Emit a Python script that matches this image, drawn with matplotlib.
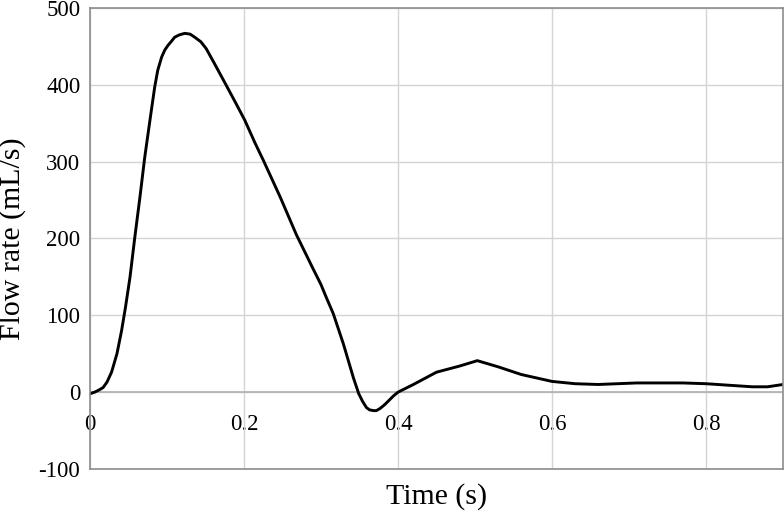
import matplotlib
matplotlib.use("Agg")
import matplotlib.pyplot as plt

plt.rcParams['font.family'] = ['Liberation Serif', 'DejaVu Serif']
plt.rcParams['axes.unicode_minus'] = False

time_s = [0.0, 0.006, 0.012, 0.017, 0.022, 0.028, 0.035, 0.041, 0.046, 0.052, 0.058,
          0.065, 0.071, 0.078, 0.084, 0.088, 0.093, 0.097, 0.101, 0.106, 0.110, 0.116,
          0.123, 0.130, 0.136, 0.144, 0.151, 0.162, 0.175, 0.190, 0.201, 0.214, 0.225,
          0.247, 0.268, 0.290, 0.300, 0.307, 0.316, 0.329, 0.342, 0.349, 0.354, 0.359,
          0.363, 0.368, 0.372, 0.377, 0.383, 0.389, 0.394, 0.400, 0.420, 0.450, 0.480,
          0.503, 0.530, 0.560, 0.600, 0.630, 0.660, 0.710, 0.770, 0.800, 0.860, 0.880,
          0.900]
flow_ml_s = [-2, 0, 3, 6, 13, 26, 50, 80, 110, 150, 200,
             255, 305, 355, 397, 419, 436, 445, 451, 457, 462, 465,
             467, 466, 462, 456, 447, 427, 403, 375, 354, 325, 302,
             254, 205, 160, 140, 123, 102, 63, 19, -2, -12, -20,
             -23, -24, -24, -21, -16, -10, -5, 0, 10, 26, 34,
             41, 33, 23, 14, 11, 10, 12, 12, 11, 7, 7,
             10]

xticks = [0, 0.2, 0.4, 0.6, 0.8]
xtick_labels = ['0', '0.2', '0.4', '0.6', '0.8']
yticks = [-100, 0, 100, 200, 300, 400, 500]

fig = plt.figure(figsize=(7.84, 5.13), dpi=100)
ax = fig.add_axes([90/784, 1-469/513, (783-90)/784, (469-8)/513])

ax.plot(time_s, flow_ml_s, color='black', lw=2.1, solid_capstyle='round',
        solid_joinstyle='round')

ax.set_xlim(0, 0.9)
ax.set_ylim(-100, 500)
ax.set_yticks(yticks)
ax.set_xticks(xticks)
ax.grid(True, color='#d4d4d4', lw=1.0)
ax.set_axisbelow(True)
for s in ax.spines.values():
    s.set_color('#8c8c8c')
    s.set_linewidth(1.2)
ax.tick_params(axis='both', length=0)
ax.tick_params(axis='x', labelbottom=False)
ax.tick_params(axis='y', labelsize=16.5, pad=7)

ax.axhline(0, color='#b0b0b0', lw=1.2, zorder=1)

sec = ax.secondary_xaxis(1/6)
sec.set_xticks(xticks)
sec.set_xticklabels(xtick_labels)
sec.tick_params(length=0, labelsize=16.5, pad=16)
sec.spines['bottom'].set_visible(False)

ax.set_xlabel('Time (s)', fontsize=21.5, labelpad=10)
ax.set_ylabel('Flow rate (mL/s)', fontsize=21.5)
ax.yaxis.set_label_coords(-0.093, 0.5)

fig.savefig('out.png', dpi=100)
